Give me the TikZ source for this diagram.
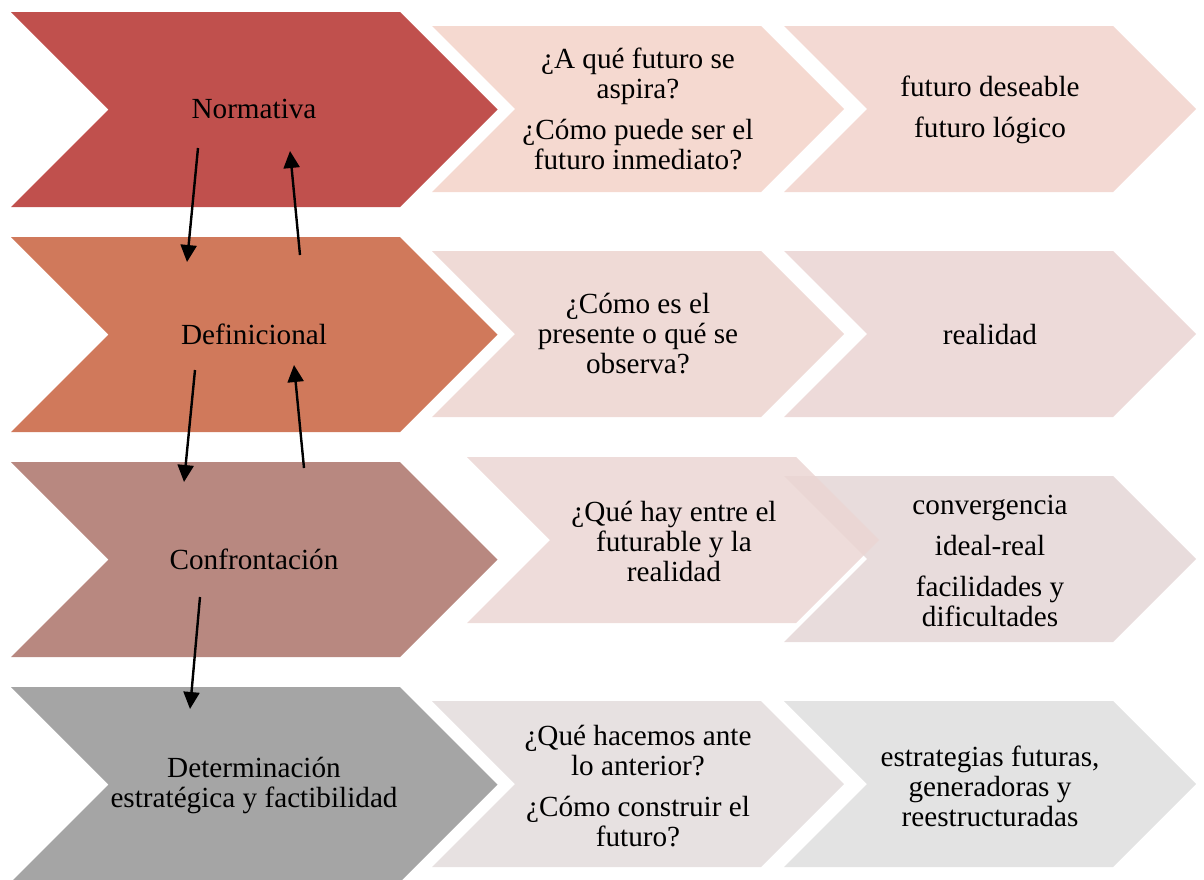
\documentclass[tikz,border=0pt]{standalone}
\usepackage{fontspec}
\setmainfont{Liberation Serif}
\usetikzlibrary{arrows.meta}
\definecolor{bigA}{HTML}{C0504D}
\definecolor{bigB}{HTML}{D0795B}
\definecolor{bigC}{HTML}{B88880}
\definecolor{bigD}{HTML}{A5A5A5}
\definecolor{midA}{HTML}{F5D9D0}
\definecolor{rgtA}{HTML}{F3D9D3}
\definecolor{midB}{HTML}{EFDAD6}
\definecolor{rgtB}{HTML}{EDDAD9}
\definecolor{midC}{HTML}{EBD6D3}
\definecolor{rgtC}{HTML}{E8DCDC}
\definecolor{midD}{HTML}{E7E1E1}
\definecolor{rgtD}{HTML}{E3E3E3}
\newcommand{\bigchev}[3]{%
  \fill[#3] (#1,#2) -- ++(389,0) -- ++(97.5,97.5) -- ++(-97.5,97.5) -- ++(-389,0) -- ++(97.5,-97.5) -- cycle;}
\newcommand{\smallchev}[4][]{%
  \fill[#4,#1] (#2,#3) -- ++(329,0) -- ++(83,83) -- ++(-83,83) -- ++(-329,0) -- ++(83,-83) -- cycle;}
\tikzset{
  lbl/.style={align=center, font=\fontsize{14.6}{15}\selectfont, inner sep=0pt, text=black},
  link/.style={line width=1.2pt, -{Triangle[length=8.5pt,width=8pt]}}
}
\begin{document}
\begin{tikzpicture}[x=0.5pt,y=-0.5pt]
\useasboundingbox (0,0) rectangle (1204,879);
\clip (0,0) rectangle (1204,879);
% row 1
\bigchev{11}{12}{bigA}
\smallchev{432}{26}{midA}
\smallchev{784}{26}{rgtA}
% row 2
\bigchev{11}{237}{bigB}
\smallchev{432}{251}{midB}
\smallchev{784}{251}{rgtB}
% row 3
\bigchev{11}{462}{bigC}
\smallchev{784}{476}{rgtC}
\smallchev[fill opacity=0.85]{467}{457}{midC}
% row 4
\bigchev{11}{687}{bigD}
\smallchev{432}{701}{midD}
\smallchev{784}{701}{rgtD}

% texts
\node[lbl] (n1) at (254,109) {Normativa};
\node[lbl] (q1) at (638,109) {¿A qué futuro se\\aspira?\\[5.5pt]¿Cómo puede ser el\\futuro inmediato?};
\node[lbl] (r1) at (990,110) {futuro deseable\\[5.5pt]futuro lógico};

\node[lbl] (n2) at (254,334) {Definicional};
\node[lbl] (q2) at (638,334) {¿Cómo es el\\presente o qué se\\observa?};
\node[lbl] (r2) at (990,335) {realidad};

\node[lbl] (n3) at (254,559) {Confrontación};
\node[lbl] (q3) at (674,541) {¿Qué hay entre el\\futurable y la\\realidad};
\node[lbl] (r3) at (990,561) {convergencia\\[5.5pt]ideal-real\\[5.5pt]facilidades y\\dificultades};

\node[lbl] (n4) at (254,785) {Determinación\\estratégica y factibilidad};
\node[lbl] (q4) at (638,786) {¿Qué hacemos ante\\lo anterior?\\[5.5pt]¿Cómo construir el\\futuro?};
\node[lbl] (r4) at (990,786) {estrategias futuras,\\generadoras y\\reestructuradas};

% arrow end points
\coordinate (a1s) at (198,148); \coordinate (a1e) at (187,262);
\coordinate (a2s) at (300,255); \coordinate (a2e) at (290,151);
\coordinate (a3s) at (195,370); \coordinate (a3e) at (184,482);
\coordinate (a4s) at (304,468); \coordinate (a4e) at (294,365);
\coordinate (a5s) at (200,597); \coordinate (a5e) at (190,709);
\draw[link] (a1s) -- (a1e);
\draw[link] (a2s) -- (a2e);
\draw[link] (a3s) -- (a3e);
\draw[link] (a4s) -- (a4e);
\draw[link] (a5s) -- (a5e);
\end{tikzpicture}
\end{document}
